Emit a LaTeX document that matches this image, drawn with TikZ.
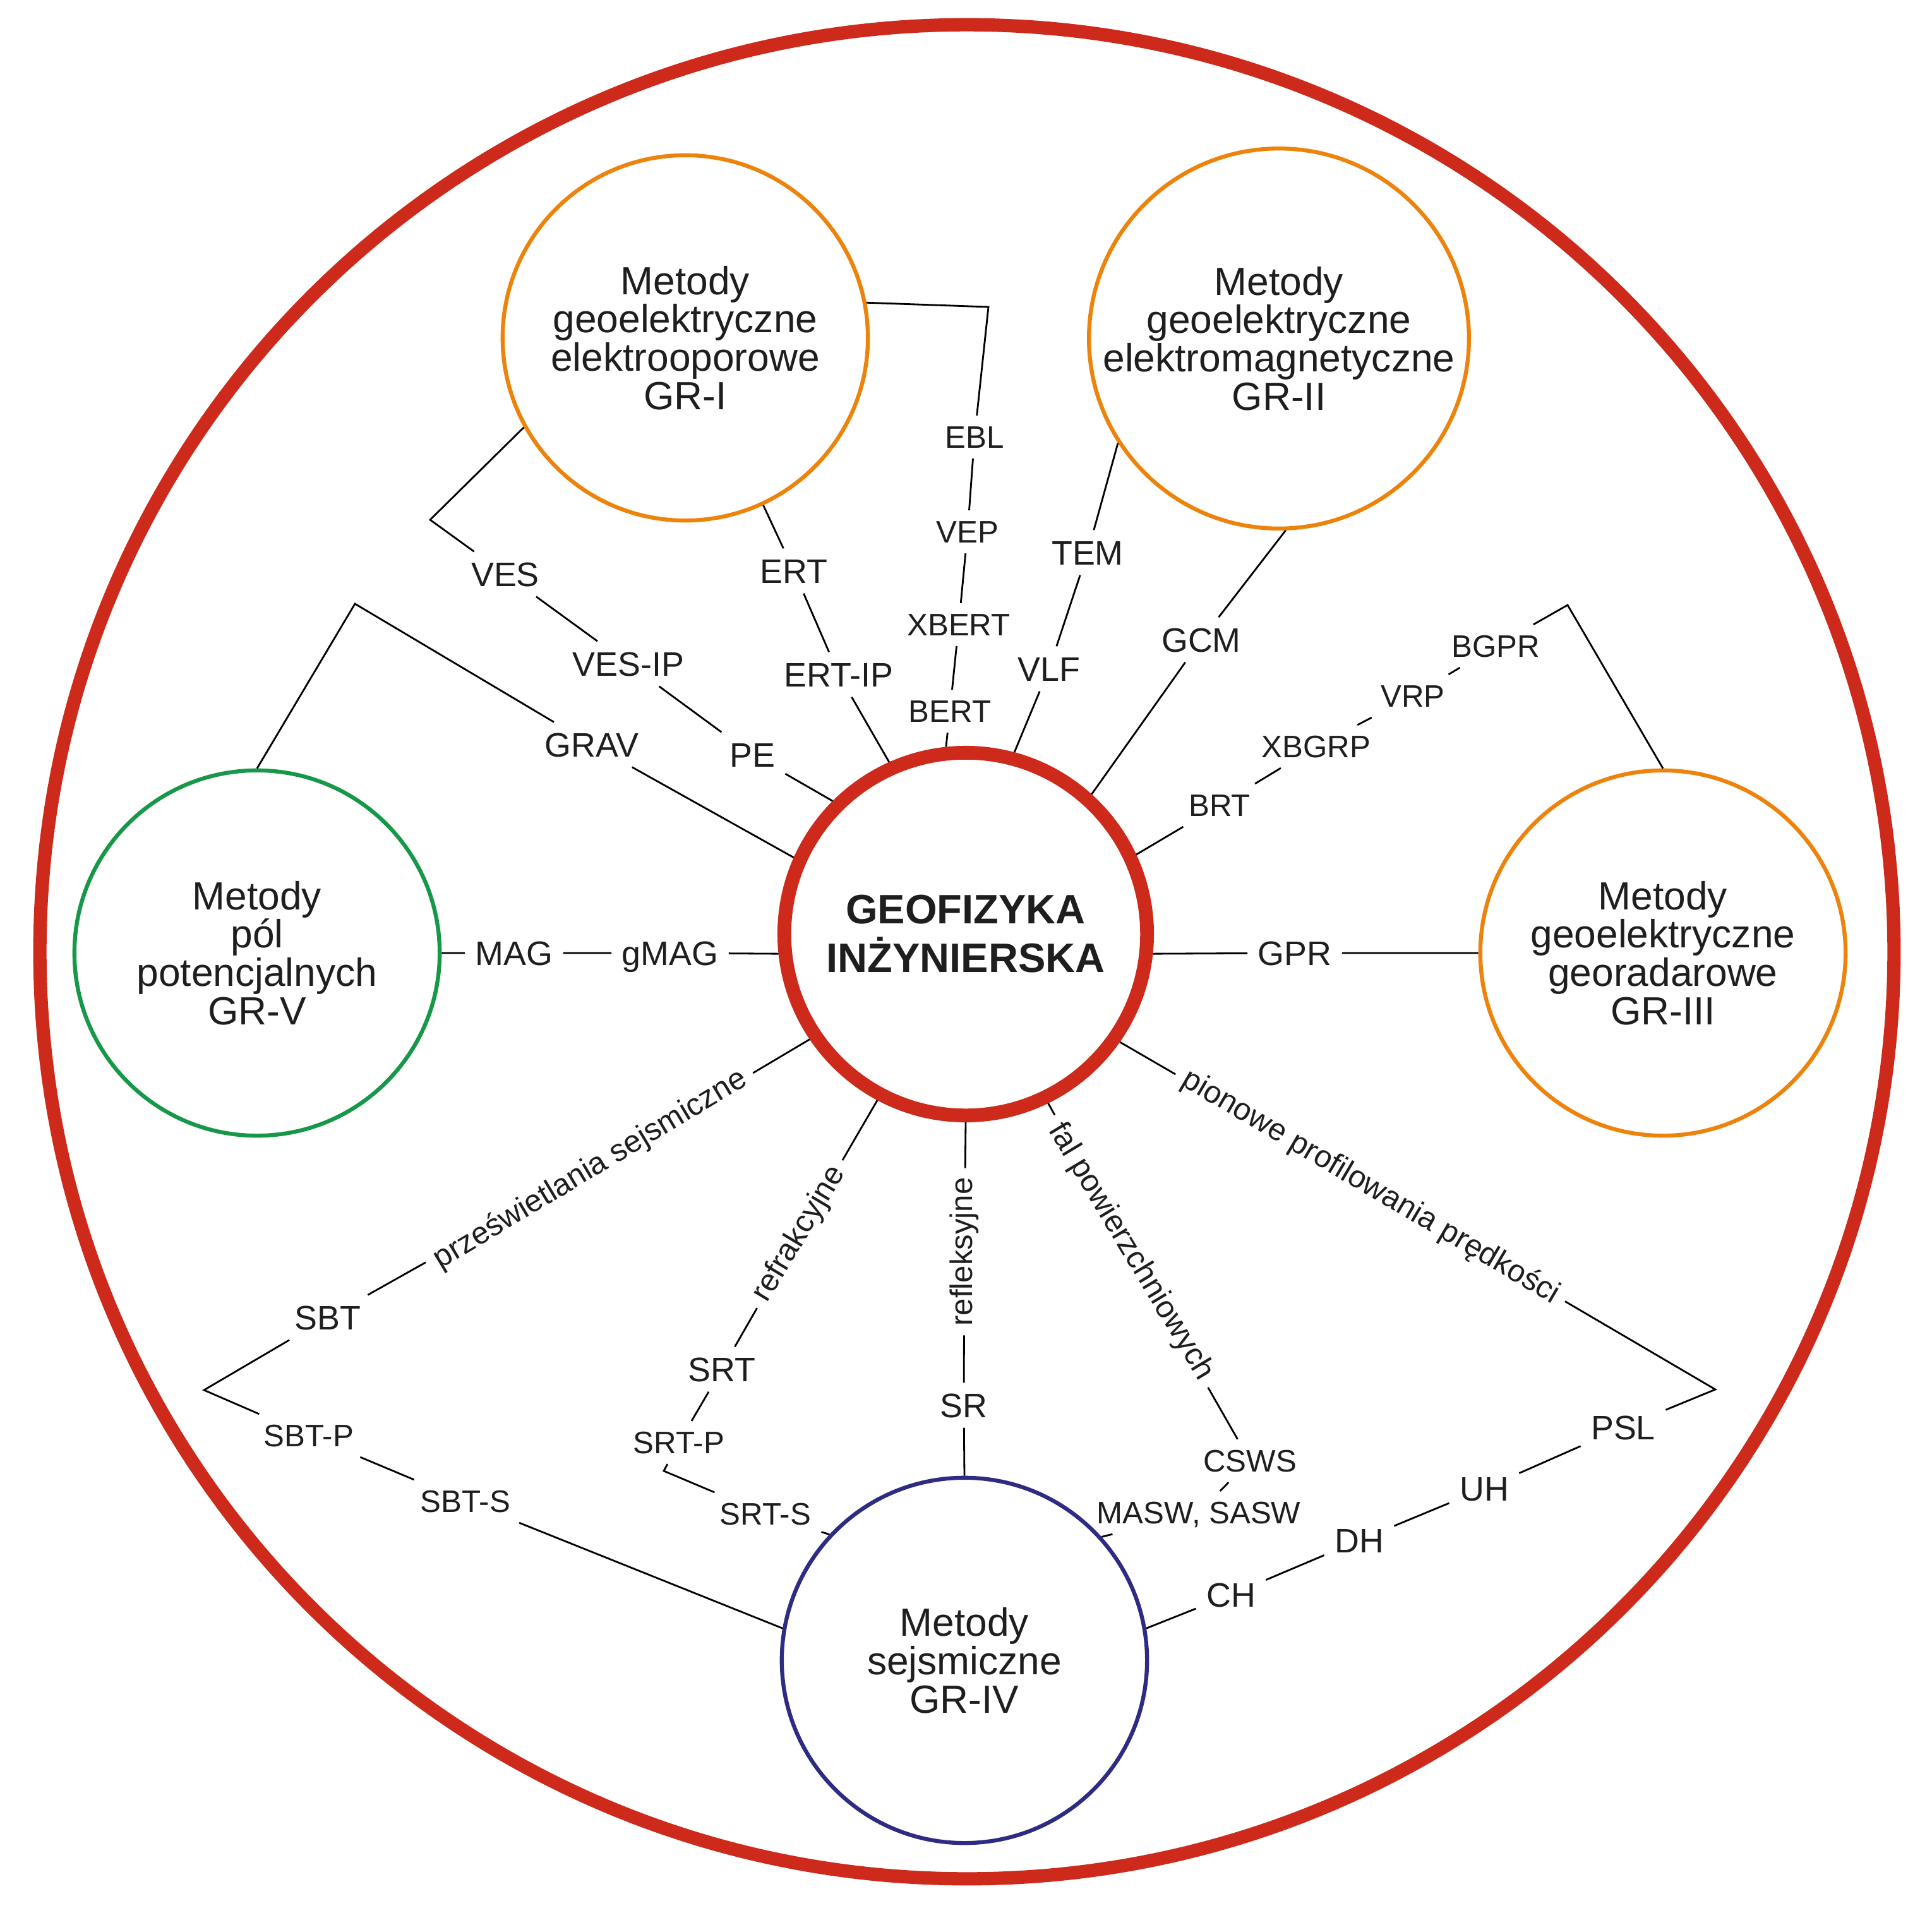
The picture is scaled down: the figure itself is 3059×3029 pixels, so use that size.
\documentclass[tikz,border=0pt]{standalone}
\usepackage{fontspec}
\setmainfont{Liberation Sans}
\definecolor{bigred}{RGB}{205,42,28}
\definecolor{orng}{RGB}{238,131,12}
\definecolor{grn}{RGB}{22,152,72}
\definecolor{navy}{RGB}{46,43,130}
\definecolor{txt}{RGB}{30,30,30}
\begin{document}
\begin{tikzpicture}[x=0.01cm,y=-0.01cm,
  conn/.style={line width=0.8pt, draw=black},
  grp/.style={circle, draw=#1, line width=1.8pt, minimum size=5.78cm, inner sep=0pt, align=center, font=\fontsize{17.7pt}{17.3pt}\selectfont, text=txt},
  lbl/.style={inner sep=4.5pt, text height=10.9pt, text depth=0pt, font=\fontsize{15.3pt}{18pt}\selectfont, text=txt},
  slbl/.style={inner sep=4.5pt, text height=10pt, text depth=0pt, font=\fontsize{14pt}{16pt}\selectfont, text=txt},
  rlbl/.style={inner sep=4pt, font=\fontsize{14pt}{16pt}\selectfont, text=txt, rotate=#1},
]
\useasboundingbox (0,0) rectangle (3059,3029);
% circles
\node[circle, draw=bigred, line width=6pt, minimum size=29.34cm, inner sep=0pt] (outer) at (1531,1507) {};
\node[circle, draw=bigred, line width=6.2pt, minimum size=5.74cm, inner sep=0pt, align=center, text=txt,
      font=\bfseries\fontsize{18.5pt}{21.9pt}\selectfont] (C) at (1529,1479) {GEOFIZYKA\\INŻYNIERSKA};
\node[grp=orng] (GRI) at (1085,535) {Metody\\geoelektryczne\\elektrooporowe\\GR-I};
\node[grp=orng] (GRII) at (2025,536) {Metody\\geoelektryczne\\elektromagnetyczne\\GR-II};
\node[grp=orng] (GRIII) at (2633,1509) {Metody\\geoelektryczne\\georadarowe\\GR-III};
\node[grp=navy] (GRIV) at (1527,2629) {Metody\\sejsmiczne\\GR-IV};
\node[grp=grn] (GRV) at (407,1509) {Metody\\pól\\potencjalnych\\GR-V};
% labels
\node[lbl] (VES) at (800,909) {VES};
\node[lbl] (VESIP) at (995,1051) {VES-IP};
\node[lbl] (PE) at (1191,1195) {PE};
\node[lbl] (GRAV) at (937,1179) {GRAV};
\node[lbl] (ERT) at (1257,904) {ERT};
\node[lbl] (ERTIP) at (1328,1068) {ERT-IP};
\node[slbl] (EBL) at (1543,692) {EBL};
\node[slbl] (VEP) at (1532,842) {VEP};
\node[slbl] (XBERT) at (1518,989) {XBERT};
\node[slbl] (BERT) at (1504,1126) {BERT};
\node[lbl] (TEM) at (1722,875) {TEM};
\node[lbl] (VLF) at (1661,1059) {VLF};
\node[lbl] (GCM) at (1902,1013) {GCM};
\node[slbl] (BRT) at (1931,1275) {BRT};
\node[slbl] (XBGRP) at (2084,1182) {XBGRP};
\node[slbl] (VRP) at (2237,1102) {VRP};
\node[slbl] (BGPR) at (2368,1023) {BGPR};
\node[lbl] (MAG) at (814,1509) {MAG};
\node[lbl] (gMAG) at (1061,1509) {gMAG};
\node[lbl] (GPR) at (2050,1509) {GPR};
\node[rlbl=31] (prz) at (935,1852) {prześwietlania sejsmiczne};
\node[rlbl=59] (refr) at (1266,1954) {refrakcyjne};
\node[rlbl=90] (refl) at (1527,1982) {refleksyjne};
\node[rlbl=-59] (fal) at (1790,1982) {fal powierzchniowych};
\node[rlbl=-30.5] (pion) at (2170,1880) {pionowe profilowania prędkości};
\node[lbl] (SBT) at (519,2086) {SBT};
\node[slbl] (SBTP) at (489,2273) {SBT-P};
\node[slbl] (SBTS) at (737,2377) {SBT-S};
\node[lbl] (SRT) at (1143,2168) {SRT};
\node[slbl] (SRTP) at (1075,2284) {SRT-P};
\node[slbl] (SRTS) at (1212,2397) {SRT-S};
\node[lbl] (SR) at (1526,2225) {SR};
\node[slbl] (CSWS) at (1979,2313) {CSWS};
\node[slbl] (MASW) at (1898,2395) {MASW, SASW};
\node[lbl] (PSL) at (2570,2260) {PSL};
\node[lbl] (UH) at (2350,2357) {UH};
\node[lbl] (DH) at (2152,2439) {DH};
\node[lbl] (CH) at (1949,2525) {CH};
% corners
\coordinate (cEBL) at (1565,486);
\coordinate (cVES) at (681,823);
\coordinate (cGRAV) at (562,956);
\coordinate (cBGPR) at (2482,958);
\coordinate (cSBT) at (323,2201);
\coordinate (cSRT) at (1051,2329);
\coordinate (cPSL) at (2716,2200);
% connectors
\draw[conn] (GRI.11) -- (cEBL) -- (EBL) -- (VEP) -- (XBERT) -- (BERT) -- (C.96);
\draw[conn] (GRI.209) -- (cVES) -- (VES) -- (VESIP) -- (PE) -- (C.135);
\draw[conn] (GRV.90) -- (cGRAV) -- (GRAV) -- (C.156);
\draw[conn] (GRI.-65) -- (ERT) -- (ERTIP) -- (C.114);
\draw[conn] (GRII.213) -- (TEM) -- (VLF) -- (C.75);
\draw[conn] (GRII.-88) -- (GCM) -- (C.48);
\draw[conn] (C.25) -- (BRT) -- (XBGRP) -- (VRP) -- (BGPR) -- (cBGPR) -- (GRIII.90);
\draw[conn] (C.-6) -- (GPR) -- (GRIII.180);
\draw[conn] (GRV.0) -- (MAG) -- (gMAG) -- (C.186);
\draw[conn] (C.214) -- (prz) -- (SBT) -- (cSBT) -- (SBTP) -- (SBTS) -- (GRIV.170);
\draw[conn] (C.242) -- (refr) -- (SRT) -- (SRTP) -- (cSRT) -- (SRTS) -- (GRIV.137);
\draw[conn] (C.-90) -- (refl) -- (SR) -- (GRIV.90);
\draw[conn] (C.-64) -- (fal) -- (CSWS) -- (MASW) -- (GRIV.42);
\draw[conn] (C.-35) -- (pion) -- (cPSL) -- (PSL) -- (UH) -- (DH) -- (CH) -- (GRIV.10);
\end{tikzpicture}
\end{document}
